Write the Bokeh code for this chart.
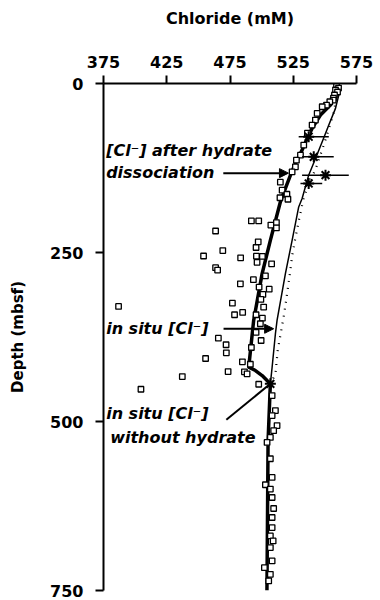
from bokeh.plotting import figure
from bokeh.models import Range1d, FixedTicker, Arrow, NormalHead
from bokeh.core.properties import value
from bokeh.embed import file_html
from bokeh.resources import INLINE

# ---- data ----
sq_cl = [559.2, 560.8, 558.4, 560.0, 557.6, 556.8, 556.6, 553.9, 551.3, 547.9, 543.9, 542.5,
         539.9, 536.2, 533.3, 530.7, 527.5, 526.7, 524.1, 514.8, 516.2, 520.0, 514.5, 520.8,
         491.9, 497.7, 507.3, 511.7, 511.7, 463.6, 497.3, 495.6, 469.3, 454.1, 483.4, 495.9,
         500.6, 496.4, 507.9, 463.6, 465.2, 493.5, 483.2, 503.0, 506.0, 498.0, 501.0, 499.4,
         501.6, 386.9, 476.9, 485.0, 478.6, 495.6, 500.6, 499.0, 465.8, 495.6, 499.6, 471.9,
         472.1, 491.9, 455.7, 484.8, 491.1, 473.5, 486.4, 488.5, 437.3, 497.7, 404.6,
         508.3, 510.9, 508.3, 512.2, 509.5, 506.9, 504.3, 506.9, 508.3, 503.0, 506.9, 508.3,
         509.5, 508.3, 508.3, 506.9, 509.1, 506.9, 508.3, 502.2, 506.9, 505.6]
sq_depth = [3.7, 6.7, 9.6, 12.6, 17, 21.5, 24.5, 27, 31.9, 34.4, 44.2, 54.1,
            61.5, 73.5, 91.1, 106, 113.4, 123.3, 130.7, 146, 157.8, 163.8, 169, 171.2,
            203.3, 203.3, 209.4, 205.7, 213.7, 218.2, 234.2, 242.6, 247.1, 255.2, 257.9, 255.4,
            255.7, 264.6, 266.8, 272.4, 276, 290.2, 296.4, 284.6, 304.3, 301.2, 312, 319.4,
            330.8, 329.8, 324.9, 338.7, 342.1, 342.1, 347.1, 355.4, 376.8, 368.3, 380.2, 386.5,
            398.4, 390.5, 406.8, 411.7, 415.3, 426.1, 426.5, 429.5, 433.5, 444.9, 452.3,
            461.7, 483.9, 491.3, 506.1, 513.5, 523.5, 530.9, 555.1, 582.8, 593.6, 600, 612.4,
            628.7, 642, 656.9, 669.2, 676.6, 686.5, 706.2, 716.2, 726, 735.9]

# [Cl-] after hydrate dissociation (thick line)
thick_cl = [559.7, 557.8, 554.4, 546.5, 539.9, 536.0, 532.0, 526.7, 522.8, 518.8, 514.8,
            506.9, 500.4, 493.7, 489.8, 495.1, 500.4, 504.3, 506.9, 505.1, 504.2]
thick_depth = [2, 14.5, 31.9, 46.7, 66.4, 81.2, 98.6, 118.3, 135.6, 155.3, 175.2,
               232, 281.3, 350.5, 419.7, 424.6, 432, 439.4, 444.3, 528.4, 750]

# in situ [Cl-] (thin line)
thin_cl = [560.0, 561.0, 558.4, 553.1, 547.9, 542.6, 537.2, 532.0, 529.3, 524.1, 518.8,
           512.2, 510.9, 508.3, 506.9]
thin_depth = [2, 17, 36.8, 61.5, 86.3, 110.9, 135.6, 170.2, 182.6, 232, 281.3,
              350.5, 370.2, 419.7, 444.3]

# dotted profile
dot_cl = [560.0, 557.5, 551.0, 544.0, 533.5, 529.5, 525.8, 524.2, 521.8, 520.5, 519.2,
          517.8, 512.7, 510.9, 506.9]
dot_depth = [2, 40, 80, 120, 167, 202, 237, 254, 289, 306, 323, 341, 395, 430, 444.3]

# in situ measurements with error bars
pcs_cl = [537.2, 541.2, 550.5, 537.2]
pcs_depth = [78.8, 108.5, 135.6, 147.9]
pcs_lo = [529.3, 532.0, 532.0, 530.7]
pcs_hi = [553.1, 557.0, 568.9, 547.9]

# in situ [Cl-] without hydrate
nohyd_cl = [506.9]
nohyd_depth = [444.3]

x_ticks = [375, 425, 475, 525, 575]
y_ticks = [0, 250, 500, 750]

FONT = "DejaVu Sans"

p = figure(width=380, height=600, x_range=Range1d(375, 575), y_range=Range1d(750, 0),
           x_axis_location="above", output_backend="svg", toolbar_location=None,
           min_border_left=103, min_border_right=24, min_border_top=83, min_border_bottom=10)
p.outline_line_color = None
p.xgrid.visible = False
p.ygrid.visible = False
p.background_fill_color = "white"
p.border_fill_color = "white"

for ax in (p.xaxis[0], p.yaxis[0]):
    ax.axis_line_width = 2
    ax.axis_line_color = "black"
    ax.major_tick_line_width = 2
    ax.major_tick_line_color = "black"
    ax.major_tick_out = 8
    ax.major_tick_in = 0
    ax.minor_tick_out = 0
    ax.minor_tick_in = 0
    ax.major_label_text_font = FONT
    ax.major_label_text_font_style = "bold"
    ax.major_label_text_font_size = "16px"
    ax.major_label_text_color = "black"
    ax.axis_label_text_font = FONT
    ax.axis_label_text_font_style = "bold"
    ax.axis_label_text_color = "black"

p.xaxis.ticker = FixedTicker(ticks=x_ticks)
p.yaxis.ticker = FixedTicker(ticks=y_ticks)
p.xaxis.axis_label = "Chloride (mM)"
p.yaxis.axis_label = "Depth (mbsf)"
p.xaxis.axis_label_text_font_size = "16px"
p.yaxis.axis_label_text_font_size = "15px"
p.xaxis.major_label_standoff = 8
p.yaxis.major_label_standoff = 12
p.xaxis.axis_label_standoff = 25
p.yaxis.axis_label_standoff = 20

# lines
p.line(dot_cl, dot_depth, line_color="black", line_width=2.2, line_dash="1 6")
p.line(thin_cl, thin_depth, line_color="black", line_width=1.5)
p.line(thick_cl, thick_depth, line_color="black", line_width=3.5)

# data squares
p.scatter(sq_cl, sq_depth, marker="square", size=5.5, fill_color="white",
          line_color="black", line_width=1.3)

# error bars + stars
p.segment(x0=pcs_lo, y0=pcs_depth, x1=pcs_hi, y1=pcs_depth, line_color="black", line_width=1.5)
p.scatter(pcs_cl, pcs_depth, marker="asterisk", size=11, line_color="black", line_width=2)
p.scatter(nohyd_cl, nohyd_depth, marker="asterisk", size=11, line_color="black", line_width=2)

# annotations
txt_x = [377.1, 377.1, 377.1, 377.1, 380.3]
txt_y = [98.6, 131.2, 362.4, 488.4, 523.9]
txt = ["[Cl\u207b] after hydrate", "dissociation", "in situ [Cl\u207b]",
       "in situ [Cl\u207b]", "without hydrate"]
p.text(x=txt_x, y=txt_y, text=txt, text_font=value(FONT), text_font_style="bold italic",
       text_font_size="16px", text_baseline="middle", text_align="left", text_color="black")

p.add_layout(Arrow(end=NormalHead(size=9, fill_color="black", line_color="black"),
                   x_start=469.7, y_start=132.6, x_end=521.2, y_end=132.6,
                   line_width=2, line_color="black"))
p.add_layout(Arrow(end=NormalHead(size=9, fill_color="black", line_color="black"),
                   x_start=469.9, y_start=362.8, x_end=509.5, y_end=362.8,
                   line_width=2, line_color="black"))
p.segment(x0=[472.1], y0=[497.3], x1=[506.9], y1=[444.3], line_color="black", line_width=2)

open("out.html", "w").write(file_html(p, INLINE))
